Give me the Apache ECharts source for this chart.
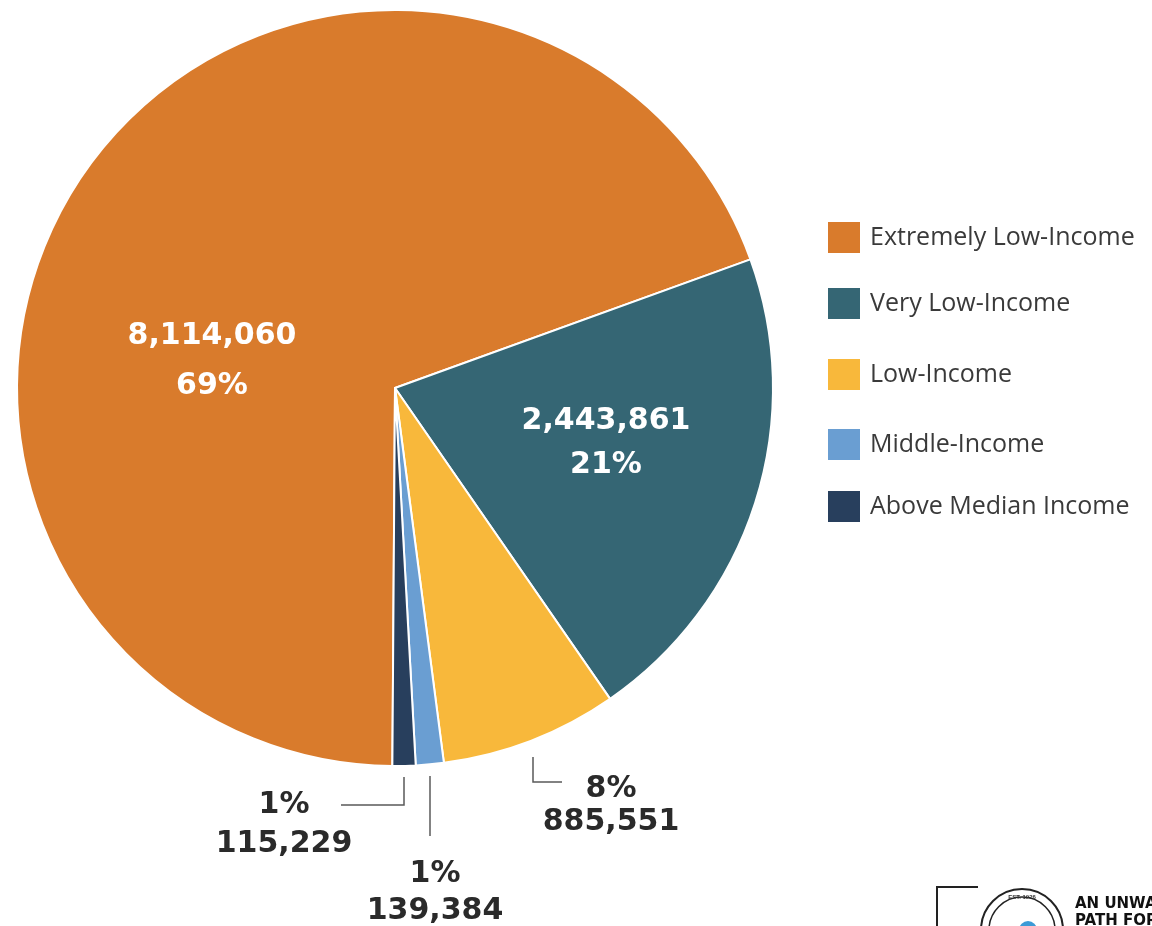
<!DOCTYPE html>
<html>
<head>
<meta charset="utf-8">
<style>
  html, body { margin: 0; padding: 0; background: #ffffff; }
  #chart { width: 1152px; height: 926px; }
</style>
<script src="https://cdn.jsdelivr.net/npm/echarts@6/dist/echarts.min.js"></script>
</head>
<body>
<div id="chart"></div>
<script>
// Households by income group
const categories = [
  'Extremely Low-Income',
  'Very Low-Income',
  'Low-Income',
  'Middle-Income',
  'Above Median Income'
];
const households = [8114060, 2443861, 885551, 139384, 115229];
const sliceColors = ['#D97B2C', '#356674', '#F8B83B', '#6A9ED2', '#283F5D'];

// Where each slice's label sits, and the elbow leader line for the small slices
const labelSpots = [
  { x: 212, y: 361, line: null },
  { x: 606, y: 443, line: null },
  { x: 611, y: 806, line: [[533, 757], [533, 782], [562, 782]] },
  { x: 435, y: 893, line: [[430, 776], [430, 806], [430, 836]] },
  { x: 284, y: 825, line: [[404, 777], [404, 805], [341, 805]] }
];
const labelLineHeights = [50, 44, 33, 37, 39];

const fmt = n => n.toLocaleString('en-US');

const chart = echarts.init(document.getElementById('chart'), null, { renderer: 'canvas' });

const legendTops = [220, 286, 357, 427, 489];

const seriesData = categories.map((name, i) => {
  const inside = i < 2;
  return {
    name: name,
    value: households[i],
    itemStyle: { color: sliceColors[i] },
    label: {
      position: inside ? 'inside' : 'outside',
      color: inside ? '#ffffff' : '#2a2a2a',
      lineHeight: labelLineHeights[i],
      formatter: inside
        ? (p => fmt(p.value) + '\n' + p.percent + '%')
        : (p => p.percent + '%\n' + fmt(p.value))
    },
    labelLine: {
      show: !inside,
      lineStyle: { color: '#5a5a5a', width: 1.5 }
    }
  };
});

const option = {
  backgroundColor: '#ffffff',
  animation: false,
  legend: categories.map((name, i) => ({
    data: [name],
    left: 826,
    top: legendTops[i],
    orient: 'vertical',
    icon: 'rect',
    itemWidth: 34,
    itemHeight: 33,
    padding: 0,
    selectedMode: false,
    textStyle: {
      fontFamily: '"Open Sans", sans-serif',
      fontSize: 25,
      color: '#3a3a3a',
      padding: [0, 0, 0, 4]
    }
  })),
  series: [{
    type: 'pie',
    center: [395, 388],
    radius: 378,
    startAngle: 269.6,
    clockwise: true,
    percentPrecision: 0,
    avoidLabelOverlap: false,
    itemStyle: { borderColor: '#ffffff', borderWidth: 2 },
    label: {
      fontFamily: '"DejaVu Sans", sans-serif',
      fontWeight: 'bold',
      fontSize: 30
    },
    labelLayout: function (params) {
      const spot = labelSpots[params.dataIndex];
      const out = { x: spot.x, y: spot.y, align: 'center', verticalAlign: 'middle' };
      if (spot.line) out.labelLinePoints = spot.line;
      return out;
    },
    emphasis: { disabled: true },
    data: seriesData
  }],
  graphic: [
    // partial organisation mark at the lower right corner
    {
      type: 'polyline',
      shape: { points: [[978, 887], [937, 887], [937, 926]] },
      style: { stroke: '#222', lineWidth: 2, fill: null }
    },
    {
      type: 'circle',
      shape: { cx: 1022, cy: 930, r: 41 },
      style: { stroke: '#222', lineWidth: 2, fill: '#fff' }
    },
    {
      type: 'circle',
      shape: { cx: 1022, cy: 930, r: 33 },
      style: { stroke: '#222', lineWidth: 1.5, fill: null }
    },
    {
      type: 'text',
      x: 1022, y: 897,
      style: { text: 'EST. 1926', fontSize: 6, fontWeight: 'bold', fill: '#333', align: 'center', verticalAlign: 'middle' }
    },
    {
      type: 'circle',
      shape: { cx: 1028, cy: 930, r: 9 },
      style: { fill: '#3C9AD6' }
    },
    {
      type: 'text',
      x: 1075, y: 904,
      style: {
        text: 'AN UNWAVERING\nPATH FORWARD',
        fontFamily: '"DejaVu Sans", sans-serif',
        fontSize: 15, fontWeight: 'bold', fill: '#111', lineHeight: 17,
        align: 'left', verticalAlign: 'top'
      },
      top: 896
    }
  ]
};

chart.setOption(option);
</script>
</body>
</html>
